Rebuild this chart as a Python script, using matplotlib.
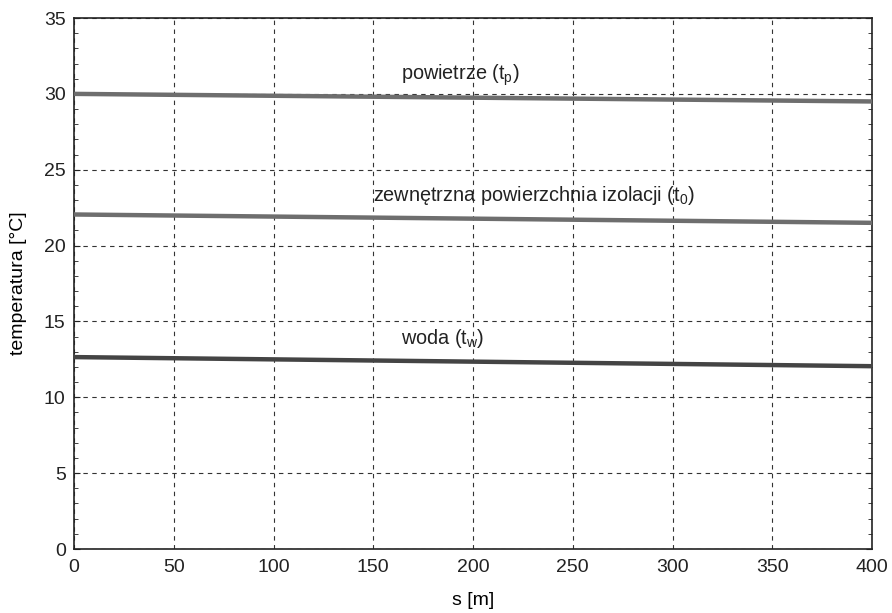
import matplotlib
matplotlib.use("Agg")
import matplotlib.pyplot as plt
from matplotlib.ticker import MultipleLocator

plt.rcParams['font.family'] = ['Liberation Sans', 'DejaVu Sans']
plt.rcParams['mathtext.fontset'] = 'custom'
plt.rcParams['mathtext.rm'] = 'Liberation Sans'
plt.rcParams['mathtext.it'] = 'Liberation Sans'

s = [0, 400]
t_p = [30.0, 29.5]
t_0 = [22.05, 21.5]
t_w = [12.65, 12.05]

labels = ["powietrze (t$_\\mathrm{p}$)",
          "zewnętrzna powierzchnia izolacji (t$_\\mathrm{0}$)",
          "woda (t$_\\mathrm{w}$)"]
label_pos = [(164, 31.2), (150, 23.3), (164, 13.9)]

fig = plt.figure(figsize=(8.92, 6.13), dpi=100)
ax = fig.add_axes([0.083, 0.1044, 0.8946, 0.8662])

ax.plot(s, t_p, color='#6e6e6e', lw=3.2, solid_capstyle='butt', zorder=3)
ax.plot(s, t_0, color='#6e6e6e', lw=3.2, solid_capstyle='butt', zorder=3)
ax.plot(s, t_w, color='#444444', lw=3.2, solid_capstyle='butt', zorder=3)

for (x, y), lab in zip(label_pos, labels):
    ax.text(x, y, lab, fontsize=14.3, va='center', ha='left', color='#222222')

ax.set_xlim(0, 400)
ax.set_ylim(0, 35)
ax.xaxis.set_major_locator(MultipleLocator(50))
ax.yaxis.set_major_locator(MultipleLocator(5))
ax.yaxis.set_minor_locator(MultipleLocator(1))
ax.grid(True, which='major', linestyle=(0, (4, 4)), color='#333333', lw=0.8)
ax.tick_params(axis='both', which='both', direction='in', labelsize=14, colors='#222222')
ax.tick_params(axis='y', which='both', right=True, left=True, pad=6)
ax.tick_params(axis='y', which='major', length=4)
ax.tick_params(axis='y', which='minor', length=3)
ax.tick_params(axis='x', which='both', length=0, pad=7)
for sp in ax.spines.values():
    sp.set_linewidth(1.2)
    sp.set_color('#222222')

ax.set_xlabel('s [m]', fontsize=14, labelpad=12)
ax.set_ylabel('temperatura [°C]', fontsize=14, labelpad=12)

fig.savefig('out.png', dpi=100)
